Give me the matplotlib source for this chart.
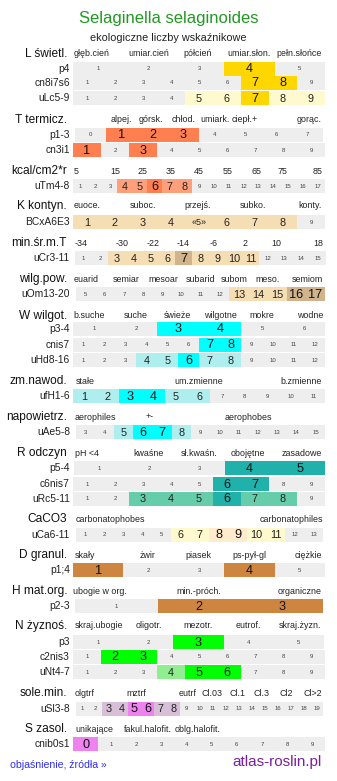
import matplotlib
matplotlib.use('Agg')
import matplotlib.pyplot as plt

plt.rcParams['font.family'] = ['Liberation Sans', 'DejaVu Sans']

# ---------------- data ----------------
title = "Selaginella selaginoides"
subtitle = "ekologiczne liczby wskaźnikowe"
footer_left = "objaśnienie, źródła »"
footer_right = "atlas-roslin.pl"

sec_names = ["L świetl.", "T termicz.", "kcal/cm2*r", "K kontyn.", "min.śr.m.T",
             "wilg.pow.", "W wilgot.", "zm.nawod.", "napowietrz.", "R odczyn",
             "CaCO3", "D granul.", "H mat.org.", "N żyznoś.", "sole.min.", "S zasol."]

sec_L = ["głęb.cień", "umiar.cień", "półcień", "umiar.słon.", "pełn.słońce"]
sec_T = ["alpej.", "górsk.", "chłod.", "umiark.", "ciepł.+", "gorąc."]
sec_kcal = ["5", "15", "25", "35", "45", "55", "65", "75", "85"]
sec_K = ["euoce.", "suboc.", "przejś.", "subko.", "konty."]
sec_minT = ["-34", "-30", "-22", "-14", "-6", "2", "10", "18"]
sec_wilg = ["euarid", "semiar", "mesoar", "subarid", "subom", "meso.", "semiom"]
sec_W = ["b.suche", "suche", "świeże", "wilgotne", "mokre", "wodne"]
sec_zm = ["stałe", "um.zmienne", "b.zmienne"]
sec_nap = ["aerophiles", "+-", "aerophobes"]
sec_R = ["pH <4", "kwaśne", "sł.kwaśn.", "obojętne", "zasadowe"]
sec_Ca = ["carbonatophobes", "carbonatophiles"]
sec_D = ["skały", "żwir", "piasek", "ps-pył-gl", "ciężkie"]
sec_H = ["ubogie w org.", "min.-próch.", "organiczne"]
sec_N = ["skraj.ubogie", "oligotr.", "mezotr.", "eutrof.", "skraj.żyzn."]
sec_sole = ["olgtrf", "mztrf", "eutrf", "Cl.03", "Cl.1", "Cl.3", "Cl2", "Cl>2"]
sec_S = ["unikające", "fakul.halofit.", "oblg.halofit."]

# row labels, first number, highlight levels (0 none, 1 light, 2 strong)
row_labels = ["p4", "cn8i7s6", "uLc5-9", "p1-3", "cn3i1", "uTm4-8", "BCxA6E3",
              "uCr3-11", "uOm13-20", "p3-4", "cnis7", "uHd8-16", "ufH1-6", "uAe5-8",
              "p5-4", "c6nis7", "uRc5-11", "uCa6-11", "p1;4", "p2-3", "p3", "c2nis3",
              "uNt4-7", "uSl3-8", "cnib0s1"]
row_start = [1, 1, 1, 0, 1, 1, 1, 1, 5, 1, 1, 1, 1, 3, 1, 1, 1, 1, 1, 1, 1, 1, 1, 1, 0]
lv_p4 = [0, 0, 0, 2, 0]
lv_cn8i7s6 = [0, 0, 0, 0, 0, 0, 2, 2, 0]
lv_uLc = [0, 0, 0, 0, 1, 1, 2, 1, 1]
lv_p13 = [0, 2, 2, 2, 0, 0, 0, 0]
lv_cn3i1 = [2, 0, 2, 0, 0, 0, 0, 0, 0]
lv_uTm = [0, 0, 0, 1, 1, 2, 1, 1, 0, 0, 0, 0, 0, 0, 0, 0, 0]
lv_BCx = [1, 1, 1, 1, 1, 1, 1, 1, 0]
lv_uCr = [0, 0, 1, 1, 1, 1, 2, 1, 1, 1, 1, 0, 0, 0, 0]
lv_uOm = [0, 0, 0, 0, 0, 0, 0, 0, 1, 1, 1, 2, 2]
lv_p34 = [0, 0, 2, 2, 0, 0]
lv_cnis7 = [0, 0, 0, 0, 0, 0, 2, 2, 0, 0, 0, 0]
lv_uHd = [0, 0, 0, 1, 1, 2, 1, 1, 0, 0, 0, 0]
lv_ufH = [1, 1, 2, 2, 1, 1, 0, 0, 0, 0, 0]
lv_uAe = [0, 0, 1, 2, 2, 1, 0, 0, 0, 0, 0, 0, 0]
lv_p54 = [0, 0, 0, 2, 2]
lv_c6nis7 = [0, 0, 0, 0, 0, 2, 2, 0, 0]
lv_uRc = [0, 0, 1, 1, 1, 2, 1, 1, 0]
lv_uCa = [0, 0, 0, 0, 0, 1, 1, 2, 2, 1, 1, 0, 0]
lv_p14 = [2, 0, 0, 2, 0]
lv_p23 = [0, 2, 2]
lv_p3 = [0, 0, 2, 0, 0]
lv_c2nis3 = [0, 2, 2, 0, 0, 0, 0, 0, 0]
lv_uNt = [0, 0, 0, 1, 2, 2, 0, 0, 0]
lv_uSl = [0, 0, 1, 1, 2, 2, 1, 1, 0, 0, 0, 0, 0, 0, 0, 0, 0, 0, 0]
lv_cnib = [2, 0, 0, 0, 0, 0, 0, 0, 0, 0]
row_levels = [lv_p4, lv_cn8i7s6, lv_uLc, lv_p13, lv_cn3i1, lv_uTm, lv_BCx, lv_uCr,
              lv_uOm, lv_p34, lv_cnis7, lv_uHd, lv_ufH, lv_uAe, lv_p54, lv_c6nis7,
              lv_uRc, lv_uCa, lv_p14, lv_p23, lv_p3, lv_c2nis3, lv_uNt, lv_uSl, lv_cnib]

# ---------------- styles / layout ----------------
GREY = "#eeeeee"
row_colors = [  # (light, strong)
    ("#fffacd", "#ffd700"), ("#fffacd", "#ffd700"), ("#fffacd", "#ffd700"),
    ("#ffa07a", "#ff7f50"), ("#ffa07a", "#ff7f50"), ("#ffa07a", "#ff7f50"),
    ("#f5deb3", "#d2b48c"), ("#f5deb3", "#d2b48c"), ("#f5deb3", "#d2b48c"),
    ("#afeeee", "#00ffff"), ("#afeeee", "#00ffff"), ("#afeeee", "#00ffff"),
    ("#afeeee", "#00ffff"), ("#afeeee", "#00ffff"),
    ("#66cdaa", "#20b2aa"), ("#66cdaa", "#20b2aa"), ("#66cdaa", "#20b2aa"),
    ("#fffacd", "#ffebcd"), ("#cd853f", "#cd853f"), ("#cd853f", "#cd853f"),
    ("#90ee90", "#00ff00"), ("#90ee90", "#00ff00"), ("#90ee90", "#00ff00"),
    ("#d8bfd8", "#ee82ee"), ("#d8bfd8", "#ee82ee"),
]
row_top = [62, 76, 91, 128, 143, 179, 215, 251, 287, 322, 338, 353, 389, 425,
           461, 477, 492, 528, 563, 599, 635, 650, 665, 702, 737]
row_x0 = [73, 73, 73, 75, 73, 73, 73, 75, 76, 73, 73, 73, 73, 76,
          74, 73, 73, 76, 73, 75, 73, 73, 73, 76, 73]
row_x1 = [325, 325, 325, 323, 325, 325, 325, 326, 325, 325, 325, 325, 325, 325,
          325, 325, 325, 323, 325, 323, 324, 325, 325, 323, 325]
ROW_H = 14

sec_y = [54, 120, 171, 206, 243, 279, 316, 381, 417, 453, 519, 555, 591, 626, 693, 729]
sec_texts = [sec_L, sec_T, sec_kcal, sec_K, sec_minT, sec_wilg, sec_W, sec_zm, sec_nap,
             sec_R, sec_Ca, sec_D, sec_H, sec_N, sec_sole, sec_S]
sec_xs = [[92, 149, 198, 249, 299],
          [121, 151, 184, 215, 245, 309],
          [76, 115, 143, 171, 199, 228, 256, 283, 318],
          [87, 143, 198, 253, 310],
          [81, 122, 153, 183, 214, 245, 276, 318],
          [86, 126, 163, 201, 234, 268, 307],
          [89, 136, 177, 220, 262, 310],
          [85, 199, 301],
          [95, 150, 248],
          [87, 149, 199, 248, 302],
          [110, 291],
          [85, 148, 198, 249, 308],
          [100, 199, 300],
          [99, 149, 198, 248, 300],
          [85, 136, 188, 212, 237, 262, 286, 313],
          [94, 148, 198]]

W, H = 337, 781
fig = plt.figure(figsize=(W / 100, H / 100), dpi=100)
ax = fig.add_axes([0, 0, 1, 1])
ax.set_xlim(0, W)
ax.set_ylim(H, 0)
ax.axis('off')

ax.text(W / 2, 18, title, color="#229922", fontsize=12, ha='center', va='center')
ax.text(W / 2, 38, subtitle, color="#222222", fontsize=7.8, ha='center', va='center')

for name, y, texts, xs in zip(sec_names, sec_y, sec_texts, sec_xs):
    ax.text(67, y, name, fontsize=8.6, ha='right', va='center', color='#111111')
    for t, x in zip(texts, xs):
        ax.text(x, y, t, fontsize=6.4, ha='center', va='center', color='#222222')

for i, (lab, start, lv) in enumerate(zip(row_labels, row_start, row_levels)):
    top = row_top[i]
    x0, x1 = row_x0[i], row_x1[i]
    n = len(lv)
    w = (x1 - x0) / n
    yc = top + ROW_H / 2
    ax.text(70, yc, lab, fontsize=7.4, ha='right', va='center', color='#222222')
    lefts = [x0 + k * w for k in range(n)]
    cols = [GREY if l == 0 else row_colors[i][l - 1] for l in lv]
    ax.barh([yc] * n, [w + 0.3] * n, left=lefts, height=ROW_H, color=cols, linewidth=0)
    for k, l in enumerate(lv):
        num = str(start + k)
        if lab == "BCxA6E3" and num == "5":
            num = "«5»"
        xc = lefts[k] + w / 2
        if l == 0:
            ax.text(xc, yc, num, fontsize=4.3, ha='center', va='center', color='#444444')
        elif l == 1:
            fs = 6.5 if num == "«5»" else 7.8
            ax.text(xc, yc + 0.5, num, fontsize=fs, ha='center', va='center', color='#222222')
        else:
            ax.text(xc, yc + 0.5, num, fontsize=9.2, ha='center', va='center', color='#111111')

ax.text(10, 765, footer_left, fontsize=7.6, ha='left', va='center', color='#2e2ef0')
ax.text(322, 762, footer_right, fontsize=11, ha='right', va='center', color='#7a1fa0')

fig.savefig("out.png", dpi=100)
